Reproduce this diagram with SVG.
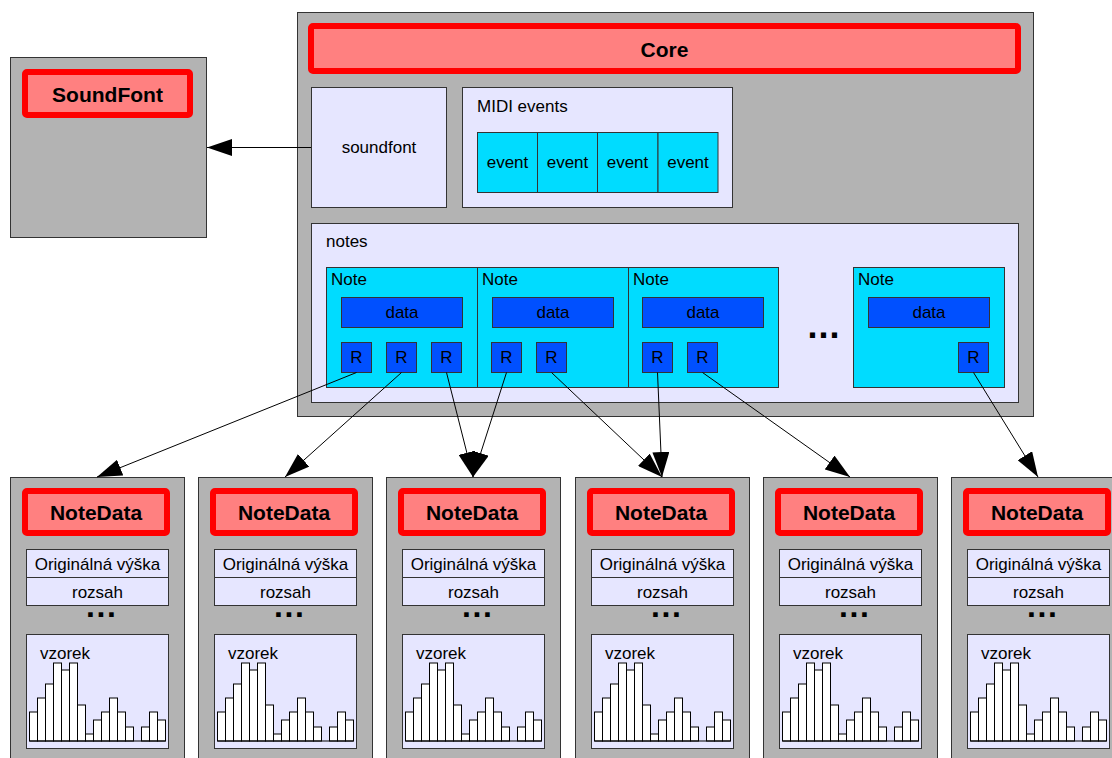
<svg xmlns="http://www.w3.org/2000/svg" xmlns:xlink="http://www.w3.org/1999/xlink" width="1112" height="758" viewBox="0 0 1112 758">
<style>
.cont{fill:#b3b3b3;stroke:#333;stroke-width:1}
.lav{fill:#e6e6ff;stroke:#333;stroke-width:1}
.cyan{fill:#00dcff;stroke:#333;stroke-width:1}
.blue{fill:#0050ff;stroke:#333;stroke-width:1}
.hdr{fill:#ff8080;stroke:#ff0000;stroke-width:6}
.t{font-family:"Liberation Sans",Arial,sans-serif;font-size:17px;fill:#000}
.b{font-family:"Liberation Sans",Arial,sans-serif;font-size:21px;font-weight:bold;fill:#000}
.c{text-anchor:middle}
.dots{font-family:"Liberation Sans",Arial,sans-serif;font-weight:bold;fill:#000}
.bar{fill:#fff;stroke:#000;stroke-width:1}
.conn line{stroke:#000;stroke-width:1;fill:none}
</style>
<defs>
<marker id="ah" markerUnits="userSpaceOnUse" markerWidth="25" markerHeight="17" refX="25" refY="8.5" orient="auto">
<path d="M0,0 L25,8.5 L0,17 Z" fill="#000"/>
</marker>
<g id="hist">
<rect class="bar" x="19.5" y="712" width="8" height="29"/>
<rect class="bar" x="27.5" y="698" width="8" height="43"/>
<rect class="bar" x="35.5" y="684" width="8" height="57"/>
<rect class="bar" x="43.5" y="663" width="8" height="78"/>
<rect class="bar" x="51.5" y="670" width="8" height="71"/>
<rect class="bar" x="59.5" y="663" width="8" height="78"/>
<rect class="bar" x="67.5" y="705" width="8" height="36"/>
<rect class="bar" x="75.5" y="734" width="8" height="7"/>
<rect class="bar" x="83.5" y="720" width="8" height="21"/>
<rect class="bar" x="91.5" y="712" width="8" height="29"/>
<rect class="bar" x="99.5" y="698" width="8" height="43"/>
<rect class="bar" x="107.5" y="712" width="8" height="29"/>
<rect class="bar" x="115.5" y="727" width="8" height="14"/>
<rect class="bar" x="131.5" y="727" width="8" height="14"/>
<rect class="bar" x="139.5" y="712" width="8" height="29"/>
<rect class="bar" x="147.5" y="720" width="8" height="21"/>
<line x1="19.5" y1="741" x2="155.5" y2="741" stroke="#000" stroke-width="1"/>
</g>
</defs>

<g id="soundfont-node">
<rect class="cont" x="10.5" y="57.5" width="196" height="180"/>
<rect class="hdr" x="25" y="72" width="165" height="43" rx="2"/>
<text class="b c" x="107.5" y="102">SoundFont</text>
</g>

<g id="core">
<rect class="cont" x="297.5" y="12.5" width="736" height="404"/>
<rect class="hdr" x="311" y="26" width="707" height="45" rx="2"/>
<text class="b c" x="664.5" y="57">Core</text>
</g>

<g id="soundfont-field">
<rect class="lav" x="311.5" y="87.5" width="135" height="120"/>
<text class="t c" x="379" y="153">soundfont</text>
</g>

<g id="midi-events">
<rect class="lav" x="462.5" y="87.5" width="270" height="120"/>
<text class="t" x="477" y="112">MIDI events</text>
<rect class="cyan" x="477.5" y="132.5" width="60" height="60"/>
<rect class="cyan" x="537.5" y="132.5" width="60" height="60"/>
<rect class="cyan" x="597.5" y="132.5" width="60.5" height="60"/>
<rect class="cyan" x="658" y="132.5" width="60" height="60"/>
<text class="t c" x="507.5" y="168">event</text>
<text class="t c" x="567.5" y="168">event</text>
<text class="t c" x="627.5" y="168">event</text>
<text class="t c" x="688" y="168">event</text>
</g>

<g id="notes">
<rect class="lav" x="311.5" y="223.5" width="707" height="179"/>
<text class="t" x="326" y="247">notes</text>
<text class="dots" x="807.5" y="338" font-size="36" letter-spacing="1">...</text>
</g>

<g id="note1">
<rect class="cyan" x="326.5" y="267.5" width="151" height="120"/>
<text class="t" x="331" y="285">Note</text>
<rect class="blue" x="341.5" y="297.5" width="121" height="30"/>
<text class="t c" x="402" y="318">data</text>
<rect class="blue" x="341.5" y="342.5" width="30" height="30"/>
<rect class="blue" x="386.5" y="342.5" width="30" height="30"/>
<rect class="blue" x="431.5" y="342.5" width="30" height="30"/>
<text class="t c" x="356.5" y="363">R</text>
<text class="t c" x="401.5" y="363">R</text>
<text class="t c" x="446.5" y="363">R</text>
</g>

<g id="note2">
<rect class="cyan" x="477.5" y="267.5" width="151" height="120"/>
<text class="t" x="482" y="285">Note</text>
<rect class="blue" x="492.5" y="297.5" width="121" height="30"/>
<text class="t c" x="553" y="318">data</text>
<rect class="blue" x="491.5" y="342.5" width="30" height="30"/>
<rect class="blue" x="536.5" y="342.5" width="30" height="30"/>
<text class="t c" x="506.5" y="363">R</text>
<text class="t c" x="551.5" y="363">R</text>
</g>

<g id="note3">
<rect class="cyan" x="628.5" y="267.5" width="150" height="120"/>
<text class="t" x="633" y="285">Note</text>
<rect class="blue" x="642.5" y="297.5" width="121" height="30"/>
<text class="t c" x="703" y="318">data</text>
<rect class="blue" x="642.5" y="342.5" width="30" height="30"/>
<rect class="blue" x="687.5" y="342.5" width="30" height="30"/>
<text class="t c" x="657.5" y="363">R</text>
<text class="t c" x="702.5" y="363">R</text>
</g>

<g id="note4">
<rect class="cyan" x="853.5" y="267.5" width="151" height="120"/>
<text class="t" x="858" y="285">Note</text>
<rect class="blue" x="868.5" y="297.5" width="121" height="30"/>
<text class="t c" x="929" y="318">data</text>
<rect class="blue" x="958.5" y="342.5" width="30" height="30"/>
<text class="t c" x="973.5" y="363">R</text>
</g>

<g id="notedata1">
<rect class="cont" x="10.5" y="477.5" width="174" height="300"/>
<rect class="hdr" x="25" y="491" width="142" height="42" rx="2"/>
<text class="b c" x="96" y="520" font-size="20.5">NoteData</text>
<rect class="lav" x="26.5" y="549.5" width="142" height="28"/>
<rect class="lav" x="26.5" y="577.5" width="142" height="28"/>
<text class="t c" x="97.5" y="570">Originálná výška</text>
<text class="t c" x="97.5" y="598">rozsah</text>
<text class="dots" x="86" y="617" font-size="32" letter-spacing="1.6">...</text>
<rect class="lav" x="26.5" y="634.5" width="142" height="114"/>
<text class="t" x="40" y="659">vzorek</text>
<use xlink:href="#hist" href="#hist" x="10" y="0"/>
</g>

<g id="notedata2" transform="translate(188,0)">
<rect class="cont" x="10.5" y="477.5" width="174" height="300"/>
<rect class="hdr" x="25" y="491" width="142" height="42" rx="2"/>
<text class="b c" x="96" y="520" font-size="20.5">NoteData</text>
<rect class="lav" x="26.5" y="549.5" width="142" height="28"/>
<rect class="lav" x="26.5" y="577.5" width="142" height="28"/>
<text class="t c" x="97.5" y="570">Originálná výška</text>
<text class="t c" x="97.5" y="598">rozsah</text>
<text class="dots" x="86" y="617" font-size="32" letter-spacing="1.6">...</text>
<rect class="lav" x="26.5" y="634.5" width="142" height="114"/>
<text class="t" x="40" y="659">vzorek</text>
<use xlink:href="#hist" href="#hist" x="10" y="0"/>
</g>

<g id="notedata3" transform="translate(376,0)">
<rect class="cont" x="10.5" y="477.5" width="174" height="300"/>
<rect class="hdr" x="25" y="491" width="142" height="42" rx="2"/>
<text class="b c" x="96" y="520" font-size="20.5">NoteData</text>
<rect class="lav" x="26.5" y="549.5" width="142" height="28"/>
<rect class="lav" x="26.5" y="577.5" width="142" height="28"/>
<text class="t c" x="97.5" y="570">Originálná výška</text>
<text class="t c" x="97.5" y="598">rozsah</text>
<text class="dots" x="86" y="617" font-size="32" letter-spacing="1.6">...</text>
<rect class="lav" x="26.5" y="634.5" width="142" height="114"/>
<text class="t" x="40" y="659">vzorek</text>
<use xlink:href="#hist" href="#hist" x="10" y="0"/>
</g>

<g id="notedata4" transform="translate(565,0)">
<rect class="cont" x="10.5" y="477.5" width="174" height="300"/>
<rect class="hdr" x="25" y="491" width="142" height="42" rx="2"/>
<text class="b c" x="96" y="520" font-size="20.5">NoteData</text>
<rect class="lav" x="26.5" y="549.5" width="142" height="28"/>
<rect class="lav" x="26.5" y="577.5" width="142" height="28"/>
<text class="t c" x="97.5" y="570">Originálná výška</text>
<text class="t c" x="97.5" y="598">rozsah</text>
<text class="dots" x="86" y="617" font-size="32" letter-spacing="1.6">...</text>
<rect class="lav" x="26.5" y="634.5" width="142" height="114"/>
<text class="t" x="40" y="659">vzorek</text>
<use xlink:href="#hist" href="#hist" x="10" y="0"/>
</g>

<g id="notedata5" transform="translate(753,0)">
<rect class="cont" x="10.5" y="477.5" width="174" height="300"/>
<rect class="hdr" x="25" y="491" width="142" height="42" rx="2"/>
<text class="b c" x="96" y="520" font-size="20.5">NoteData</text>
<rect class="lav" x="26.5" y="549.5" width="142" height="28"/>
<rect class="lav" x="26.5" y="577.5" width="142" height="28"/>
<text class="t c" x="97.5" y="570">Originálná výška</text>
<text class="t c" x="97.5" y="598">rozsah</text>
<text class="dots" x="86" y="617" font-size="32" letter-spacing="1.6">...</text>
<rect class="lav" x="26.5" y="634.5" width="142" height="114"/>
<text class="t" x="40" y="659">vzorek</text>
<use xlink:href="#hist" href="#hist" x="10" y="0"/>
</g>

<g id="notedata6" transform="translate(941,0)">
<rect class="cont" x="10.5" y="477.5" width="174" height="300"/>
<rect class="hdr" x="25" y="491" width="142" height="42" rx="2"/>
<text class="b c" x="96" y="520" font-size="20.5">NoteData</text>
<rect class="lav" x="26.5" y="549.5" width="142" height="28"/>
<rect class="lav" x="26.5" y="577.5" width="142" height="28"/>
<text class="t c" x="97.5" y="570">Originálná výška</text>
<text class="t c" x="97.5" y="598">rozsah</text>
<text class="dots" x="86" y="617" font-size="32" letter-spacing="1.6">...</text>
<rect class="lav" x="26.5" y="634.5" width="142" height="114"/>
<text class="t" x="40" y="659">vzorek</text>
<use xlink:href="#hist" href="#hist" x="10" y="0"/>
</g>

<g id="connectors" class="conn">
<line x1="311" y1="147.5" x2="207" y2="147.5" marker-end="url(#ah)"/>
<line x1="356.5" y1="372.5" x2="97" y2="477" marker-end="url(#ah)"/>
<line x1="401.5" y1="372.5" x2="285" y2="477" marker-end="url(#ah)"/>
<line x1="446.5" y1="372.5" x2="473" y2="477" marker-end="url(#ah)"/>
<line x1="506.5" y1="372.5" x2="473" y2="477" marker-end="url(#ah)"/>
<line x1="551.5" y1="372.5" x2="662" y2="477" marker-end="url(#ah)"/>
<line x1="657.5" y1="372.5" x2="662" y2="477" marker-end="url(#ah)"/>
<line x1="702.5" y1="372.5" x2="850" y2="477" marker-end="url(#ah)"/>
<line x1="973.5" y1="372.5" x2="1038" y2="477" marker-end="url(#ah)"/>
</g>
</svg>
